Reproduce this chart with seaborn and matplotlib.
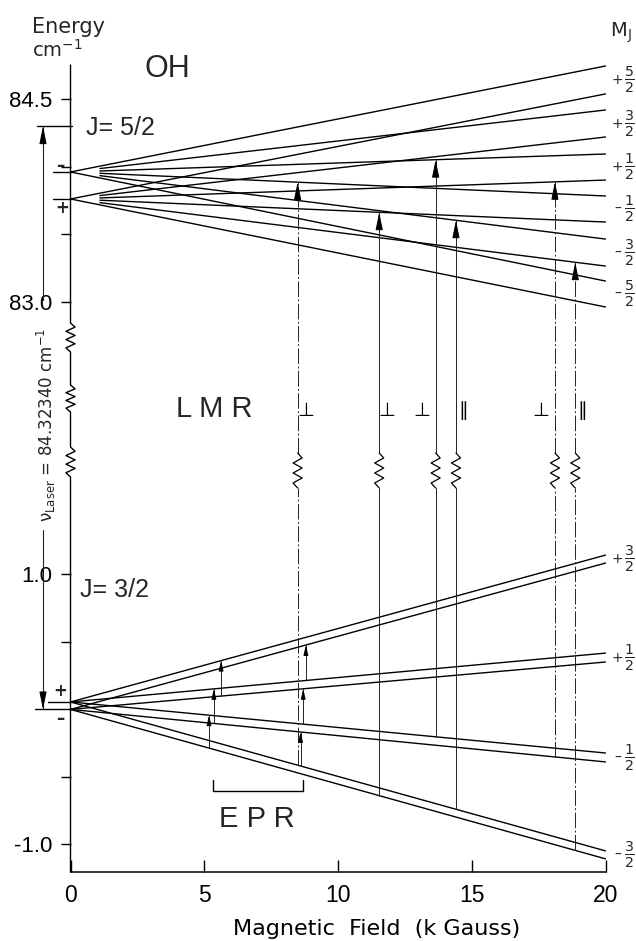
import numpy as np
import pandas as pd
import matplotlib
matplotlib.use("Agg")
import matplotlib.pyplot as plt
import seaborn as sns

# ---------------- data ----------------
X_TICKS = [0, 5, 10, 15, 20]
X_TICK_LABELS = ["0", "5", "10", "15", "20"]
UPPER_TICKS = [84.5, 84.0, 83.5, 83.0]
UPPER_TICK_LABELS = ["84.5", "", "", "83.0"]
LOWER_TICKS = [1.0, 0.5, -0.5, -1.0]
LOWER_TICK_LABELS = ["1.0", "", "", "-1.0"]

B_END = 20.0
# J = 5/2 (upper) Zeeman levels, energy in cm-1 at B = 0 and B = 20 kG
UPPER_M = ["+5/2", "+3/2", "+1/2", "-1/2", "-3/2", "-5/2"]
UPPER_E0 = {"-": 83.961, "+": 83.761}
UPPER_E20_MINUS = [84.746, 84.420, 84.094, 83.783, 83.464, 83.153]
UPPER_E20_PLUS = [84.539, 84.220, 83.901, 83.590, 83.264, 82.961]
UPPER_LINE_START = [0.0, 1.1, 1.1, 1.1, 1.1, 0.0]

# J = 3/2 (lower) Zeeman levels
LOWER_M = ["+3/2", "+1/2", "-1/2", "-3/2"]
LOWER_E0 = {"+": 0.055, "-": 0.0}
LOWER_E20_PLUS = [1.143, 0.417, -0.323, -1.048]
LOWER_E20_MINUS = [1.084, 0.351, -0.389, -1.107]

# LMR resonances (field kG, lower level, upper level, polarisation)
LMR_B = [8.49, 11.54, 13.65, 14.41, 18.11, 18.87]
LMR_LOWER = [("+", "-3/2"), ("-", "-3/2"), ("+", "-1/2"), ("+", "-3/2"), ("-", "-1/2"), ("-", "-3/2")]
LMR_UPPER = [("-", "-1/2"), ("+", "-1/2"), ("-", "+1/2"), ("-", "-3/2"), ("+", "+1/2"), ("+", "-3/2")]
LMR_POL = ["\u22a5", "\u22a5", "\u22a5", "\u2225", "\u22a5", "\u2225"]
LMR_DASHED = [True, False, False, False, True, True]

# EPR resonances within J = 3/2
EPR_B = [5.18, 5.36, 5.63, 8.60, 8.70, 8.80]
EPR_LOWER = [("-", "-3/2"), ("-", "-1/2"), ("-", "+1/2"), ("+", "-3/2"), ("+", "-1/2"), ("+", "+1/2")]
EPR_UPPER = [("+", "-1/2"), ("+", "+1/2"), ("+", "+3/2"), ("-", "-1/2"), ("-", "+1/2"), ("-", "+3/2")]
EPR_RANGE = (5.31, 8.71)

LASER = 84.32340
LASER_MARK = 84.30

# ---------------- layout helpers ----------------
W, H = 636, 941
UPPER_SHIFT = 79.98          # broken axis: upper section drawn shifted down
PXY0, PXS = 709.4, 135.0     # pixel of y=0 and pixels per cm-1
PXX0, PXXS = 70.5, 26.75


def yu(e):
    return e - UPPER_SHIFT


def py(p):  # pixel row -> plot y
    return (PXY0 - p) / PXS


def pb(p):  # pixel column -> field value
    return (p - PXX0) / PXXS


def fpx(x, y):
    return x / W, 1 - y / H


def upper_level(par, m, B):
    e0 = UPPER_E0[par]
    e20 = (UPPER_E20_MINUS if par == "-" else UPPER_E20_PLUS)[UPPER_M.index(m)]
    return yu(e0 + (e20 - e0) * B / B_END)


def lower_level(par, m, B):
    e0 = LOWER_E0[par]
    e20 = (LOWER_E20_MINUS if par == "-" else LOWER_E20_PLUS)[LOWER_M.index(m)]
    return e0 + (e20 - e0) * B / B_END


def zigzag(x0, y_top, y_bot, amp, n=3):
    ys = np.linspace(y_top, y_bot, 2 * n + 2)
    xs = [x0] + [x0 + amp * (1 if i % 2 == 0 else -1) for i in range(2 * n)] + [x0]
    return np.array(xs), ys


def arrowhead(ax, x, ytip, up=True, L=1.08, Wd=0.22, ms=10, back=0.12):
    yt = ytip - back if up else ytip + back
    ax.annotate("", xy=(x, ytip), xytext=(x, yt),
                arrowprops=dict(arrowstyle=f"-|>,head_length={L},head_width={Wd}",
                                color="black", lw=0.7, shrinkA=0, shrinkB=0,
                                mutation_scale=ms), annotation_clip=False)


# ---------------- figure ----------------
sns.set_theme(style="white")
plt.rcParams["font.family"] = ["DejaVu Sans"]
LIB = ["Liberation Sans", "DejaVu Sans"]

fig = plt.figure(figsize=(W / 100, H / 100), dpi=100)
ax = fig.add_axes([PXX0 / W, 1 - 872 / H, (605.5 - PXX0) / W, (872 - 65) / H])
ax.set_xlim(0, 20)
ax.set_ylim(py(872), py(65))

# level lines through seaborn
rows = []
for par in ["-", "+"]:
    for m, bs in zip(UPPER_M, UPPER_LINE_START):
        lid = f"U{par}{m}"
        rows.append((lid, bs, upper_level(par, m, bs)))
        rows.append((lid, B_END, upper_level(par, m, B_END)))
for par in ["+", "-"]:
    for m in LOWER_M:
        lid = f"L{par}{m}"
        rows.append((lid, 0.0, lower_level(par, m, 0.0)))
        rows.append((lid, B_END, lower_level(par, m, B_END)))
df = pd.DataFrame(rows, columns=["line", "B", "Y"])
sns.lineplot(data=df, x="B", y="Y", units="line", estimator=None, sort=False,
             color="black", lw=1.0, ax=ax, legend=False)

# zero-field stubs left of the axis
for par in ["-", "+"]:
    ax.plot([pb(53), 0], [yu(UPPER_E0[par])] * 2, color="black", lw=1.0, clip_on=False)
ax.plot([pb(48), 0], [LOWER_E0["+"]] * 2, color="black", lw=1.0, clip_on=False)
ax.plot([pb(35), 0], [LOWER_E0["-"]] * 2, color="black", lw=1.0, clip_on=False)

# y axis line with break zigzags
zig_px = [(323, 352), (385, 412), (447, 477)]
axx, axy = [0.0], [py(65)]
for a, b in zig_px:
    zx, zy = zigzag(0.0, py(a), py(b), 0.17)
    axx += list(zx)
    axy += list(zy)
axx.append(0.0)
axy.append(py(872))
ax.plot(axx, axy, color="black", lw=1.0, clip_on=False)

# LMR transitions
zt, zb = py(453), py(488)
for B, lo, up, dashed in zip(LMR_B, LMR_LOWER, LMR_UPPER, LMR_DASHED):
    y_lo = lower_level(lo[0], lo[1], B)
    y_up = upper_level(up[0], up[1], B)
    ls = (0, (16, 2.5, 2, 2.5)) if dashed else "-"
    ax.plot([B, B], [y_lo, zb], color="#222222", lw=0.7, ls=ls)
    ax.plot([B, B], [zt, y_up], color="#222222", lw=0.7, ls=ls)
    zx, zy = zigzag(B, zt, zb, 0.17)
    ax.plot(zx, zy, color="black", lw=0.9)
    arrowhead(ax, B, y_up, up=True)

# polarisation symbols
pol_dx = [0.30, 0.30, -0.52, 0.26, -0.52, 0.26]
for B, s, dx in zip(LMR_B, LMR_POL, pol_dx):
    ax.text(B + dx, py(411), s, ha="center", va="center", fontsize=14,
            color="black", family=["DejaVu Sans"])

# EPR transitions
for B, lo, up in zip(EPR_B, EPR_LOWER, EPR_UPPER):
    y_lo = lower_level(lo[0], lo[1], B)
    y_up = lower_level(up[0], up[1], B)
    ax.plot([B, B], [y_lo, y_up], color="#222222", lw=0.7)
    arrowhead(ax, B, y_up, up=True, L=0.6, Wd=0.14, back=0.06)

# EPR bracket
ax.plot([EPR_RANGE[0], EPR_RANGE[0], EPR_RANGE[1], EPR_RANGE[1]],
        [py(780), py(791), py(791), py(780)], color="black", lw=1.0)

# laser arrow
xl = pb(43)
y_top = yu(LASER_MARK)
ax.plot([pb(37), pb(72)], [y_top, y_top], color="black", lw=1.0, clip_on=False)
ax.plot([xl, xl], [y_top, py(300)], color="#222222", lw=0.8, clip_on=False)
ax.plot([xl, xl], [py(530), LOWER_E0["-"]], color="#222222", lw=0.8, clip_on=False)
arrowhead(ax, xl, y_top, up=True)
arrowhead(ax, xl, LOWER_E0["-"], up=False)

# ticks
ax.set_xticks(X_TICKS)
ax.set_xticklabels(X_TICK_LABELS)
ax.set_yticks([yu(v) for v in UPPER_TICKS] + LOWER_TICKS)
ax.set_yticklabels(UPPER_TICK_LABELS + LOWER_TICK_LABELS)
ax.tick_params(axis="x", direction="in", length=9, width=1.0, pad=9, bottom=True,
               labelsize=16.5, colors="black")
ax.tick_params(axis="y", direction="out", length=7, width=1.0, pad=6, left=True,
               labelsize=16, colors="black")
for lab in ax.get_xticklabels() + ax.get_yticklabels():
    lab.set_family(LIB)
for sp in ["top", "right", "left"]:
    ax.spines[sp].set_visible(False)
ax.spines["bottom"].set_color("black")
ax.spines["bottom"].set_linewidth(1.1)
ax.set_ylabel("")
ax.set_xlabel("Magnetic  Field  (k Gauss)", fontsize=16, color="black")
ax.xaxis.set_label_coords((377 - PXX0) / (605.5 - PXX0), (872 - 929) / (872 - 65))
ax.xaxis.label.set_va("center")

# M_J labels at the right
def mj_label(m, yc):
    sign = "+" if m[0] == "+" else "\u2013"
    ax.text(20.45, yc, sign, ha="center", va="center", fontsize=10, clip_on=False)
    ax.text(20.9, yc, rf"$\frac{{{m[1]}}}{{{m[3]}}}$", ha="center", va="center",
            fontsize=14.5, clip_on=False)

for m in UPPER_M:
    mj_label(m, 0.5 * (upper_level("-", m, B_END) + upper_level("+", m, B_END)))
for m in LOWER_M:
    mj_label(m, 0.5 * (lower_level("+", m, B_END) + lower_level("-", m, B_END)))

# texts
fig.text(*fpx(32, 33), "Energy", ha="left", va="baseline", fontsize=15)
fig.text(*fpx(32, 57), "cm$^{-1}$", ha="left", va="baseline", fontsize=14)
fig.text(*fpx(610, 37), "M$_\\mathregular{J}$", ha="left", va="baseline", fontsize=14)
fig.text(*fpx(167, 77), "OH", ha="center", va="baseline", fontsize=22, family=LIB)
fig.text(*fpx(214, 417), "L M R", ha="center", va="baseline", fontsize=21, family=LIB)
fig.text(*fpx(257, 827), "E P R", ha="center", va="baseline", fontsize=21, family=LIB)
fig.text(*fpx(86, 135), "J= 5/2", ha="left", va="baseline", fontsize=18, family=LIB)
fig.text(*fpx(80, 597), "J= 3/2", ha="left", va="baseline", fontsize=18, family=LIB)
fig.text(*fpx(46, 425), "\u03bd$_\\mathregular{Laser}$ = 84.32340 cm$^{-1}$",
         ha="center", va="center", rotation=90, fontsize=12)
for (x, y, s) in [(60, 166, "\u2013"), (62, 208, "+"), (60, 691, "+"), (60, 719, "\u2013")]:
    fig.text(*fpx(x, y), s, ha="center", va="center", fontsize=12, fontweight="bold")

fig.savefig("out.png", dpi=100, facecolor="white")
